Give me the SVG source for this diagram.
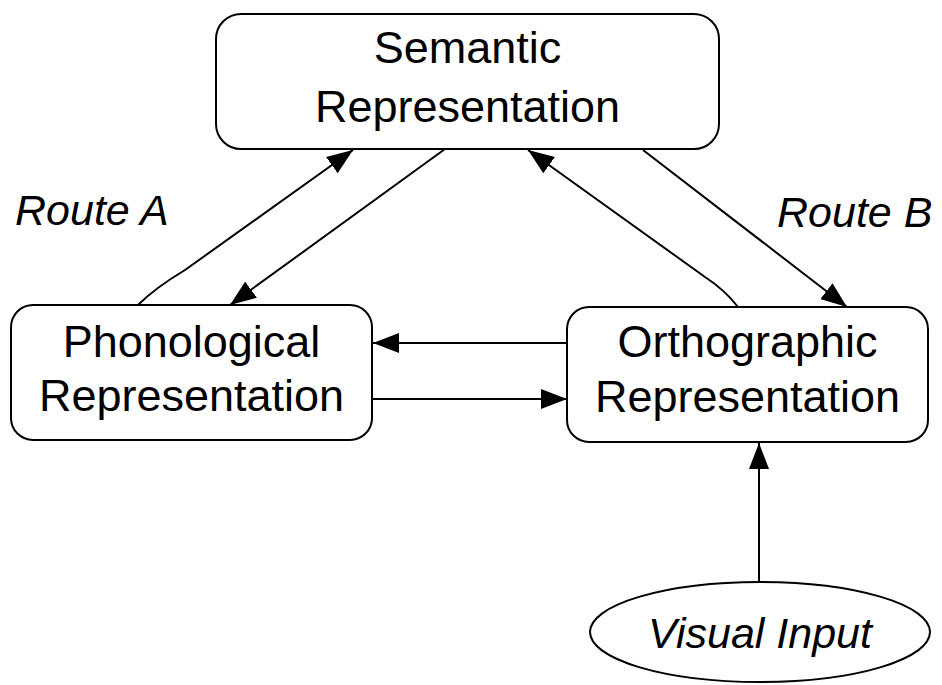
<svg xmlns="http://www.w3.org/2000/svg" width="942" height="685" viewBox="0 0 942 685">
<style>
.box{fill:#fff;stroke:#000;stroke-width:2}
.lbl{font-family:"Liberation Sans",Arial,sans-serif;font-size:45px;fill:#000;text-anchor:middle}
.it{font-family:"Liberation Sans",Arial,sans-serif;font-style:italic;font-size:43px;fill:#000}
.c{fill:none;stroke:#000;stroke-width:2}
</style>
<defs>
<marker id="ah" markerUnits="userSpaceOnUse" markerWidth="26" markerHeight="20" refX="26" refY="10" orient="auto">
<path d="M0,0 L26,10 L0,20 z" fill="#000"/>
</marker>
</defs>
<rect width="942" height="685" fill="#fff"/>
<g id="connectors">
<path class="c" d="M138,305 Q155,288 185,270 L353,150" marker-end="url(#ah)"/>
<path class="c" d="M445,149 L230,305" marker-end="url(#ah)"/>
<path class="c" d="M738,307 Q725,290 705,277 L528,150" marker-end="url(#ah)"/>
<path class="c" d="M643,150 L847,307" marker-end="url(#ah)"/>
<path class="c" d="M567,343 L373,343" marker-end="url(#ah)"/>
<path class="c" d="M372,399 L567,399" marker-end="url(#ah)"/>
<path class="c" d="M759,582 L759,443" marker-end="url(#ah)"/>
</g>
<g id="semantic">
<rect class="box" x="216" y="14" width="503" height="135" rx="25"/>
<text class="lbl" x="467.5" y="63">Semantic</text>
<text class="lbl" x="467.5" y="122">Representation</text>
</g>
<g id="phonological">
<rect class="box" x="11" y="305" width="361" height="135" rx="22"/>
<text class="lbl" x="191.5" y="357">Phonological</text>
<text class="lbl" x="191.5" y="411">Representation</text>
</g>
<g id="orthographic">
<rect class="box" x="567" y="307" width="361" height="135" rx="22"/>
<text class="lbl" x="747.5" y="357">Orthographic</text>
<text class="lbl" x="747.5" y="412">Representation</text>
</g>
<g id="visual-input">
<ellipse class="box" cx="760" cy="632" rx="170" ry="50"/>
<text class="it" x="760" y="648" text-anchor="middle" font-size="44">Visual Input</text>
</g>
<g id="route-labels">
<text class="it" x="15" y="225">Route A</text>
<text class="it" x="777" y="227">Route B</text>
</g>
</svg>
